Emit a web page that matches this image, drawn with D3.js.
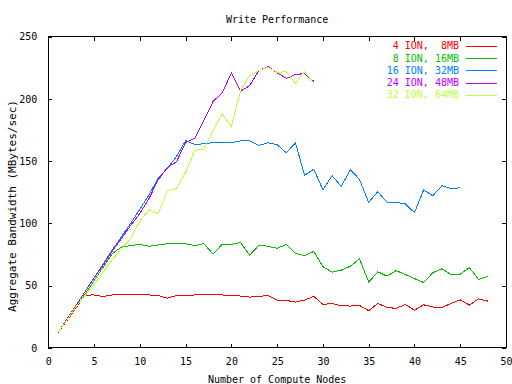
<!DOCTYPE html>
<html>
<head>
<meta charset="utf-8">
<script src="https://cdn.jsdelivr.net/npm/d3@7"></script>
<style>
  body { margin: 0; background: #fff; }
  text { font-family: "DejaVu Sans Mono", monospace; font-size: 10px; fill: #000; }
</style>
</head>
<body>
<div id="plot"></div>
<script>
// values, MB/s per number of compute nodes
var seriesNames = ["4 ION,  8MB", "8 ION, 16MB", "16 ION, 32MB", "24 ION, 48MB", "32 ION, 64MB"];
var seriesColors = ["#ff0000", "#00c000", "#0080ff", "#c000ff", "#c0ff40"];

var ion4 = [12, 21.5, 32, 42.5, 42.6, 41.3, 42.6, 42.6, 42.6, 42.6, 42.6, 42.2, 40, 42.2, 42, 42.6, 42.6, 42.6, 42.6,
  42.2, 41.7, 40.9, 41.4, 42.2, 38.5, 38.2, 36.9, 38.5, 41.4, 35.0, 35.8, 33.9, 33.7, 34.2, 29.9, 35.8, 32.6, 31.8,
  35.0, 30.4, 34.7, 32.9, 32.6, 35.8, 38.7, 34.5, 39.5, 37.7];
var ion8 = [12, 22, 33, 43, 54, 65, 76, 81, 82.2, 83.3, 81.7, 82.7, 83.8, 83.8, 83.8, 82.2, 83.8, 75.4, 83.3,
  83.3, 84.7, 74.5, 82.5, 81.7, 80.1, 83.1, 75.9, 74.3, 77.5, 65.4, 60.9, 62.5, 65.7, 71.6, 52.9, 61.2, 57.7, 62.2,
  59.0, 55.8, 52.6, 60.4, 63.6, 59.0, 59.3, 64.6, 55.0, 57.4];
var ion16 = [12, 23, 34, 45, 56.5, 67.5, 78.7, 89.4, 100.1, 111.4, 122.9, 136.3, 144.3, 153.7, 166.5, 163.5, 164, 165,
  165, 164.8, 166.4, 166.4, 162.7, 164.8, 163.2, 156.8, 164.8, 138.6, 143.7, 127.1, 138.4, 129.8, 143.2, 135.4, 117,
  125.5, 117, 117, 115.7, 108.7, 126.9, 122.3, 130.3, 127.9, 128.7];
var ion24 = [12, 23, 34, 45, 56, 67, 78, 88, 98.5, 108, 120, 135, 145, 149.5, 165, 168.5, 182.7, 198, 204.9, 220.9,
  206.2, 210.7, 222.8, 226, 220.9, 216.6, 219.6, 220.4, 214.2];
var ion32 = [12, 22, 33, 42, 51, 61, 71, 80, 88, 102, 111, 107.6, 126, 128, 141, 158.7, 159.5, 174.7, 188, 177.9,
  206.7, 218.8, 222.8, 225.4, 221.4, 221.9, 212.6, 222.2, 212.6];
var allSeries = [ion4, ion8, ion16, ion24, ion32];

var xTicks = [0, 5, 10, 15, 20, 25, 30, 35, 40, 45, 50];
var yTicks = [0, 50, 100, 150, 200, 250];

var totalWidth = 512,
    totalHeight = 384;
var margin = {top: 36.7, right: 6, bottom: 36, left: 48.3};
var width = totalWidth - margin.left - margin.right,
    height = totalHeight - margin.top - margin.bottom;

var svg = d3.select("#plot").append("svg")
    .attr("width", totalWidth)
    .attr("height", totalHeight);

var x = d3.scaleLinear().domain([0, 50]).range([0, width]);
var y = d3.scaleLinear().domain([0, 250]).range([height, 0]);

var graph = svg.append("g")
    .attr("transform", "translate(" + margin.left + "," + margin.top + ")");

// inward ticks on all four sides, labels only bottom/left
function styleAxis(g) {
  g.select(".domain").remove();
  g.selectAll(".tick line").attr("stroke", "#000").attr("shape-rendering", "crispEdges");
  g.selectAll(".tick text").style("font-family", "DejaVu Sans Mono").style("font-size", "10px");
}
graph.append("g")
    .attr("transform", "translate(0," + height + ")")
    .call(d3.axisBottom(x).tickValues(xTicks).tickSize(-4).tickPadding(10))
    .call(styleAxis);
graph.append("g")
    .call(d3.axisTop(x).tickValues(xTicks).tickSize(-4).tickFormat(""))
    .call(styleAxis);
graph.append("g")
    .call(d3.axisLeft(y).tickValues(yTicks).tickSize(-4).tickPadding(11))
    .call(styleAxis);
graph.append("g")
    .attr("transform", "translate(" + width + ",0)")
    .call(d3.axisRight(y).tickValues(yTicks).tickSize(-4).tickFormat(""))
    .call(styleAxis);

graph.append("rect")
    .attr("width", width)
    .attr("height", height)
    .attr("fill", "none")
    .attr("stroke", "#000")
    .attr("shape-rendering", "crispEdges");

var line = d3.line()
    .x(function(d, i) { return x(i + 1); })
    .y(function(d) { return y(d); });

// gnuplot png lines are not antialiased
allSeries.forEach(function(s, k) {
  graph.append("path")
      .datum(s)
      .attr("d", line)
      .attr("fill", "none")
      .attr("stroke", seriesColors[k])
      .attr("stroke-width", 1)
      .attr("shape-rendering", "crispEdges");
});

// legend, top right
var legend = svg.append("g");
seriesNames.forEach(function(name, k) {
  var ly = 45.7 + k * 12.3;
  legend.append("text")
      .attr("x", 459)
      .attr("y", ly + 3.5)
      .attr("text-anchor", "end")
      .style("white-space", "pre")
      .style("fill", seriesColors[k])
      .text(name);
  legend.append("line")
      .attr("x1", 466).attr("x2", 497)
      .attr("y1", Math.round(ly) + 0.5).attr("y2", Math.round(ly) + 0.5)
      .attr("stroke", seriesColors[k])
      .attr("shape-rendering", "crispEdges");
});

svg.append("text")
    .attr("x", margin.left + width / 2)
    .attr("y", 23)
    .attr("text-anchor", "middle")
    .text("Write Performance");

svg.append("text")
    .attr("x", margin.left + width / 2)
    .attr("y", 383)
    .attr("text-anchor", "middle")
    .text("Number of Compute Nodes");

svg.append("text")
    .attr("transform", "translate(16,206) rotate(-90)")
    .attr("text-anchor", "middle")
    .style("font-size", "11px")
    .text("Aggregate Bandwidth (MBytes/sec)");
</script>
</body>
</html>
